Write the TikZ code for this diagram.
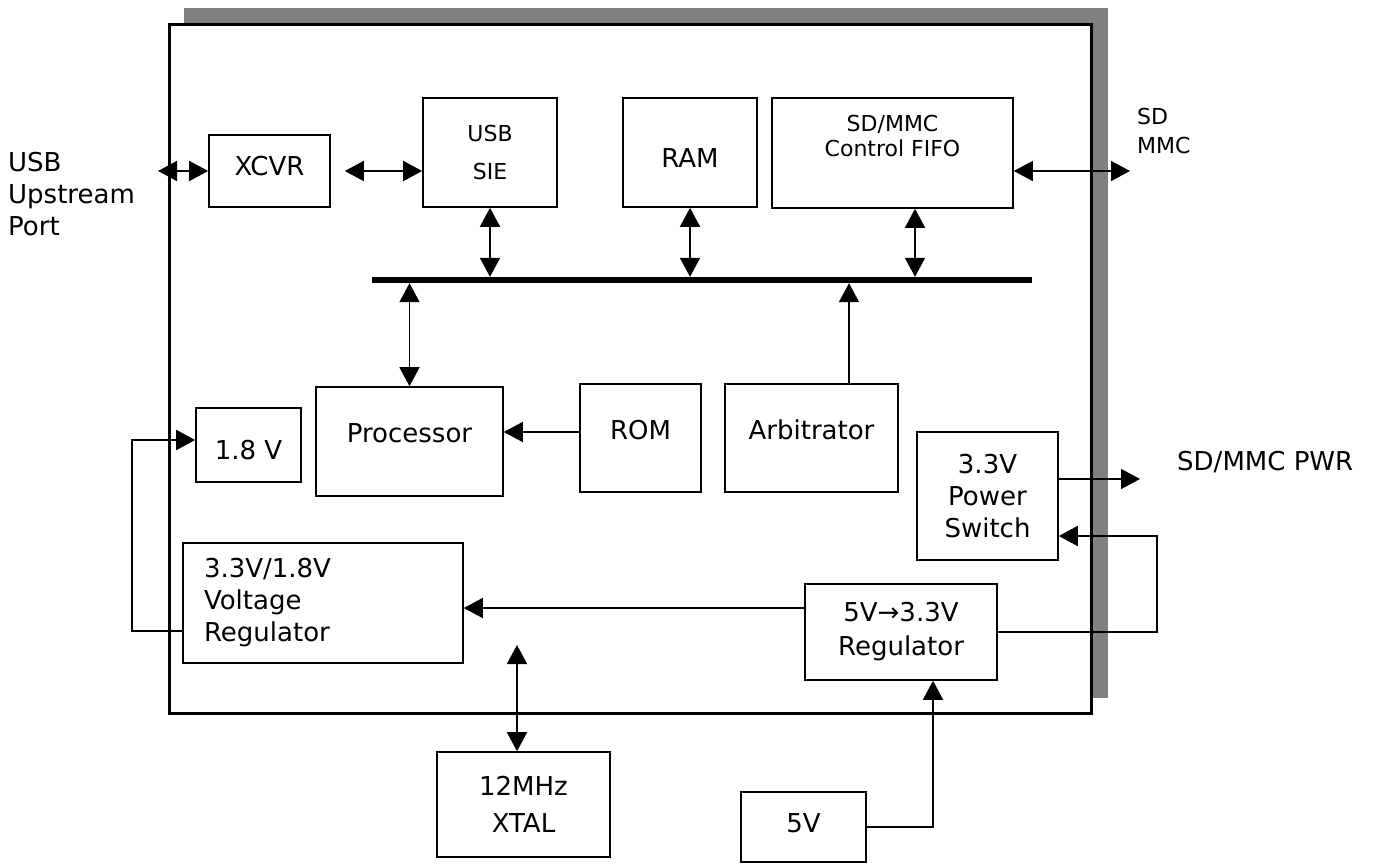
\documentclass[tikz,border=0pt]{standalone}
\usepackage{fontspec}
\setmainfont{DejaVu Sans}
\usetikzlibrary{arrows.meta}

\definecolor{shadowgray}{RGB}{128,128,128}
\tikzset{
  blk/.style={draw, line width=1.6pt, inner sep=0pt, align=center},
  wire/.style={line width=1.6pt},
  smalltxt/.style={font=\fontsize{22}{25}\selectfont},
  txtup/.style={text height=19pt, text depth=#1},
  txtdown/.style={text height=#1, text depth=0pt},
}

\begin{document}
\begin{tikzpicture}[x=1pt,y=-1pt,>={Triangle[length=19pt,width=20pt]},
    font=\fontsize{26}{32}\selectfont]
  \useasboundingbox (0,0) rectangle (1380,864);
  % chip outline with its shadow
  \fill[shadowgray] (184,8) rectangle (1108,698);
  \draw[line width=3pt, fill=white] (169,25) rectangle (1091,713);

  % blocks
  \node[blk, minimum width=121pt, minimum height=72pt, txtup=10pt] (xcvr) at (269.5,171) {XCVR};
  \node[blk, smalltxt, minimum width=134pt, minimum height=109pt] (sie) at (490,152.5) {USB\\[13pt]SIE};
  \node[blk, minimum width=134pt, minimum height=109pt, txtdown=30pt] (ram) at (690,152.5) {RAM};
  \node[blk, smalltxt, minimum width=241pt, minimum height=110pt] (fifo) at (892.5,153) {SD/MMC\\Control FIFO\\[10pt]\mbox{}};
  \node[fill, inner sep=0pt, minimum width=660pt, minimum height=6pt] (bus) at (702,280) {};
  \node[blk, minimum width=187pt, minimum height=109pt, txtup=17pt] (proc) at (409.5,441.5) {Processor};
  \node[blk, minimum width=105pt, minimum height=74pt, txtdown=28pt] (v18) at (248.5,445) {1.8 V};
  \node[blk, minimum width=121pt, minimum height=108pt, txtup=17pt] (rom) at (640.5,438) {ROM};
  \node[blk, minimum width=173pt, minimum height=108pt, txtup=17pt] (arb) at (811.5,438) {Arbitrator};
  \node[blk, minimum width=141pt, minimum height=128pt] (pwr) at (987.5,496) {3.3V\\Power\\Switch};
  \node[blk, minimum width=280pt, minimum height=120pt, align=left, text width=238pt, inner xsep=21pt] (vreg) at (323,603) {3.3V/1.8V\\Voltage\\Regulator};
  \node[blk, minimum width=192pt, minimum height=96pt] (reg5) at (901,632) {5V→3.3V\\[2pt]Regulator};
  \node[blk, minimum width=173pt, minimum height=105pt] (xtal) at (523.5,804.5) {12MHz\\[5pt]XTAL};
  \node[blk, minimum width=125pt, minimum height=70pt, txtup=9pt] (fv) at (803.5,827) {5V};

  % outside labels
  \node[anchor=west, inner sep=0pt, align=left] (usbport) at (8,194.5) {USB\\Upstream\\Port};
  \node[anchor=west, inner sep=0pt, align=left, font=\fontsize{22}{29}\selectfont] (sdmmc) at (1137,131) {SD\\MMC};
  \node[anchor=west, inner sep=0pt] (sdpwr) at (1177,462) {SD/MMC PWR};

  % connectors
  \coordinate (usbend) at (158,171);
  \coordinate (sdend) at (1130,171);
  \coordinate (pwrend) at (1140,479);
  \coordinate (xtaltop) at (517,645);
  \draw[wire,<->] (usbend) -- (xcvr.west);
  \draw[wire,<->] ([xshift=14pt]xcvr.east) -- (sie.west |- xcvr);
  \draw[wire,<->] (fifo.east |- xcvr) -- (sdend);
  \draw[wire,<->] (sie.south) -- (sie.south |- bus.north);
  \draw[wire,<->] (ram.south) -- (ram.south |- bus.north);
  \draw[wire,<->] ([xshift=22.5pt]fifo.south) -- ([xshift=22.5pt]fifo.south |- bus.north);
  \draw[wire,<->] (proc.north) -- (proc.north |- bus.south);
  \draw[wire,->] ([xshift=37.5pt]arb.north) -- ([xshift=37.5pt]arb.north |- bus.south);
  \draw[wire,->] ([yshift=6pt]rom.west) -- ([yshift=6pt]rom.west -| proc.east);
  \draw[wire,->] ([yshift=-28pt]vreg.west) -| (132,440) -- (v18.west |- 0,440);
  \draw[wire,->] (reg5.west |- 0,608) -- (vreg.east |- 0,608);
  \draw[wire,->] (reg5.east) -- (1157,632) |- (pwr.east |- 0,536);
  \draw[wire,->] (pwr.east |- pwrend) -- (pwrend);
  \draw[wire,<->] (xtaltop) -- (xtaltop |- xtal.north);
  \draw[wire,->] (fv.east) -| ([xshift=32pt]reg5.south);
\end{tikzpicture}
\end{document}
